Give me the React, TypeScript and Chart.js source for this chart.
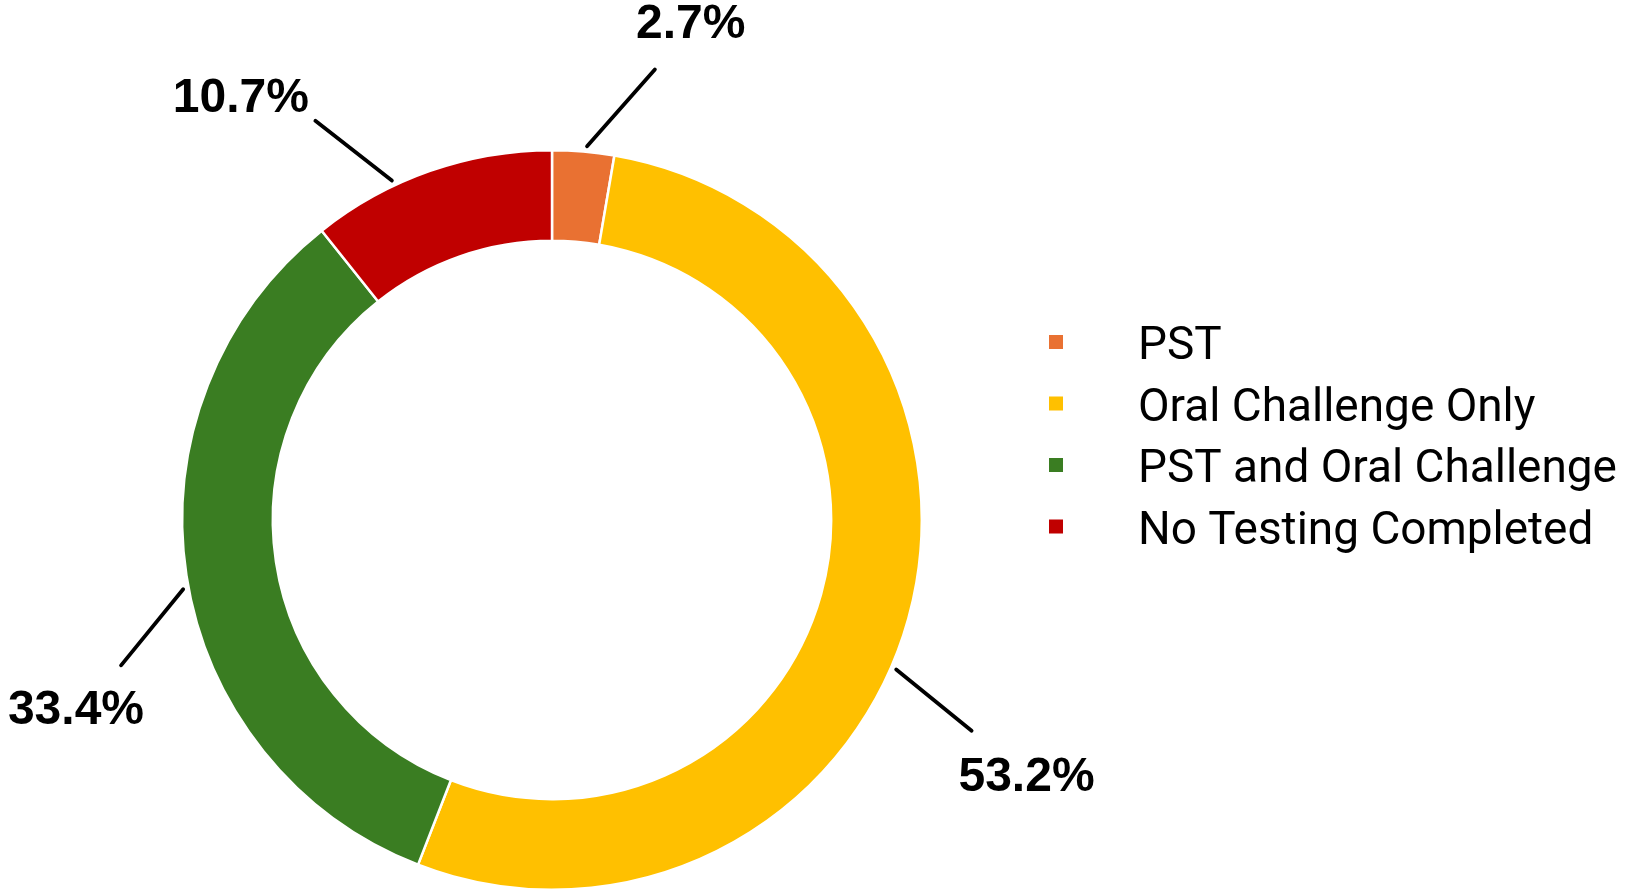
import React, { useEffect, useRef } from "react";
import { Chart, registerables } from "chart.js";

Chart.register(...registerables);

const categories = ["PST", "Oral Challenge Only", "PST and Oral Challenge", "No Testing Completed"];
const values = [2.7, 53.2, 33.4, 10.7];
const colors = ["#E97132", "#FFC000", "#3A7D22", "#C00000"];
const valueLabels = ["2.7%", "53.2%", "33.4%", "10.7%"];

// leader-line / label layout (angle offsets in degrees from slice middle, radii as factor of outer radius)
const leaderStartDelta = [0.5, 8, -2, -6];
const leaderEndDelta = [8, 11.2, -10, -11.4];
const leaderEndRadius = [1.25, 1.27, 1.23, 1.255];
const labelDelta = [10.8, 13, -13.2, -17.2];
const labelRadius = [1.39, 1.46, 1.387, 1.416];

const W = 1625;
const H = 896;

const labelPlugin = {
  id: "leaderLabels",
  afterDatasetsDraw(chart: any) {
    const ctx = chart.ctx;
    const meta = chart.getDatasetMeta(0);
    ctx.save();
    meta.data.forEach((arc: any, i: number) => {
      const { x, y, startAngle, endAngle, outerRadius } = arc.getProps(
        ["x", "y", "startAngle", "endAngle", "outerRadius"],
        true
      );
      const mid = (startAngle + endAngle) / 2;
      const d = Math.PI / 180;
      const a0 = mid + leaderStartDelta[i] * d;
      const a1 = mid + leaderEndDelta[i] * d;
      const r0 = outerRadius * 1.015;
      const r1 = outerRadius * leaderEndRadius[i];
      ctx.beginPath();
      ctx.moveTo(x + r0 * Math.cos(a0), y + r0 * Math.sin(a0));
      ctx.lineTo(x + r1 * Math.cos(a1), y + r1 * Math.sin(a1));
      ctx.strokeStyle = "#000";
      ctx.lineWidth = 3.8;
      ctx.lineCap = "round";
      ctx.stroke();
      const al = mid + labelDelta[i] * d;
      const rl = outerRadius * labelRadius[i];
      ctx.font = "bold 48px 'Liberation Sans', Arial, sans-serif";
      ctx.fillStyle = "#000";
      ctx.textAlign = "center";
      ctx.textBaseline = "middle";
      ctx.fillText(valueLabels[i], x + rl * Math.cos(al), y + rl * Math.sin(al));
    });
    ctx.restore();
  },
};

const legendPlugin = {
  id: "sideLegend",
  afterDraw(chart: any) {
    const ctx = chart.ctx;
    const labels = chart.data.labels as string[];
    const bg = chart.data.datasets[0].backgroundColor as string[];
    ctx.save();
    ctx.font = "100px Roboto, sans-serif";
    const target = 479;
    const wide = ctx.measureText(categories[2]).width;
    const size = (target / wide) * 100;
    ctx.font = `${size}px Roboto, sans-serif`;
    ctx.textAlign = "left";
    ctx.textBaseline = "alphabetic";
    const boxX = 1049;
    const textX = 1138;
    const firstY = 342;
    const step = 61.5;
    const box = 14;
    labels.forEach((lab, i) => {
      const cy = firstY + i * step;
      ctx.fillStyle = bg[i];
      ctx.fillRect(boxX, cy - box / 2, box, box);
      ctx.fillStyle = "#000";
      ctx.fillText(lab, textX, cy + 17);
    });
    ctx.restore();
  },
};

export default function App() {
  const ref = useRef<HTMLCanvasElement | null>(null);
  useEffect(() => {
    if (!ref.current) return;
    const chart = new Chart(ref.current, {
      type: "doughnut",
      data: {
        labels: categories,
        datasets: [
          {
            data: values,
            backgroundColor: colors,
            borderColor: "#ffffff",
            borderWidth: 2.5,
          },
        ],
      },
      options: {
        responsive: false,
        animation: false,
        cutout: "75.5%",
        layout: { padding: { left: 181, right: 702, top: 149, bottom: 5 } },
        plugins: {
          legend: { display: false },
          tooltip: { enabled: false },
        },
      },
      plugins: [labelPlugin, legendPlugin],
    });
    return () => chart.destroy();
  }, []);
  return (
    <div style={{ position: "absolute", left: 0, top: 0, width: W, height: H, background: "#fff" }}>
      <canvas ref={ref} width={W} height={H} style={{ width: W, height: H, display: "block" }} />
    </div>
  );
}
